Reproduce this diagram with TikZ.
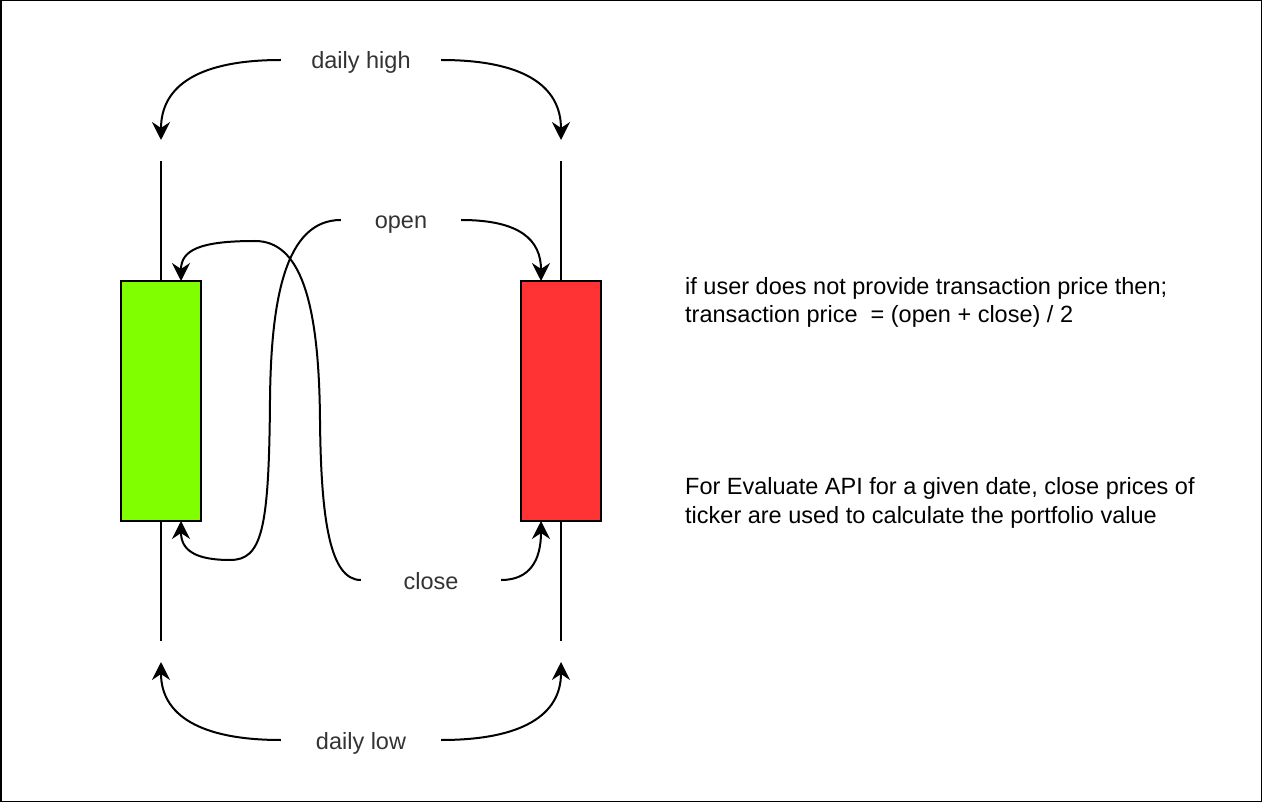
\documentclass[tikz,border=0pt]{standalone}
\usepackage{fontspec}
\setmainfont{Liberation Sans}
\usetikzlibrary{arrows.meta}
\definecolor{candlegreen}{HTML}{80FF00}
\definecolor{candlered}{HTML}{FF3333}
\definecolor{labelgray}{HTML}{333333}
\begin{document}
\begin{tikzpicture}[x=1pt,y=-1pt,
  lbl/.style={inner sep=0pt, text=labelgray, font=\fontsize{23.5}{28}\selectfont, text height=20pt, text depth=2pt, anchor=center},
  candle/.style={draw=black, line width=2pt, minimum width=80pt, minimum height=240pt, inner sep=0pt},
  wick/.style={line width=2pt},
  conn/.style={line width=2pt, -{Stealth[length=18pt,width=18pt,inset=6pt]}},
  note/.style={inner sep=0pt, font=\fontsize{23.5}{28.5}\selectfont, align=left, anchor=base west}
]
\useasboundingbox (0,0) rectangle (1262,802);
\draw[line width=1.5pt] (0.75,0.75) rectangle (1261.25,801.25);

% candles
\node[candle, fill=candlegreen] (green) at (161,401) {};
\node[candle, fill=candlered] (red) at (561,401) {};

\coordinate (gtop) at (161,161);
\coordinate (gbot) at (161,641);
\coordinate (rtop) at (561,161);
\coordinate (rbot) at (561,641);
\draw[wick] (gtop) -- (green.north);
\draw[wick] (green.south) -- (gbot);
\draw[wick] (rtop) -- (red.north);
\draw[wick] (red.south) -- (rbot);

% labels
\node[lbl, minimum width=160pt] (high) at (361,60) {daily high};
\node[lbl, minimum width=120pt] (open) at (401,220) {open};
\node[lbl, minimum width=140pt] (close) at (431,580) {close};
\node[lbl, minimum width=160pt] (low) at (361,740) {daily low};

% arrow ends
\coordinate (ghigh) at (161,140);
\coordinate (rhigh) at (561,140);
\coordinate (glow) at (161,662);
\coordinate (rlow) at (561,662);
\coordinate (gopen) at (181,521);
\coordinate (gclose) at (181,281);
\coordinate (ropen) at (541,281);
\coordinate (rclose) at (541,521);

% daily high
\draw[conn] (high.west) .. controls (200,60) and (161,85) .. (ghigh);
\draw[conn] (high.east) .. controls (522,60) and (561,85) .. (rhigh);
% daily low
\draw[conn] (low.west) .. controls (200,740) and (161,715) .. (glow);
\draw[conn] (low.east) .. controls (522,740) and (561,715) .. (rlow);
% open
\draw[conn] (open.west) .. controls (285,220) and (271,300) .. (270,400)
  .. controls (269,530) and (262,560) .. (230,560)
  .. controls (195,560) and (181,550) .. (gopen);
\draw[conn] (open.east) .. controls (520,220) and (541,240) .. (ropen);
% close
\draw[conn] (close.west) .. controls (330,580) and (321,520) .. (320,420)
  .. controls (319,300) and (300,241) .. (255,241)
  .. controls (200,241) and (181,250) .. (gclose);
\draw[conn] (close.east) .. controls (530,580) and (541,560) .. (rclose);

% notes (base anchor = baseline of last line)
\node[note] (note1) at (685,323) {if user does not provide transaction price then;\\transaction price~ = (open + close) / 2};
\node[note] (note2) at (685,523) {For Evaluate API for a given date, close prices of\\ticker are used to calculate the portfolio value};
\end{tikzpicture}
\end{document}
